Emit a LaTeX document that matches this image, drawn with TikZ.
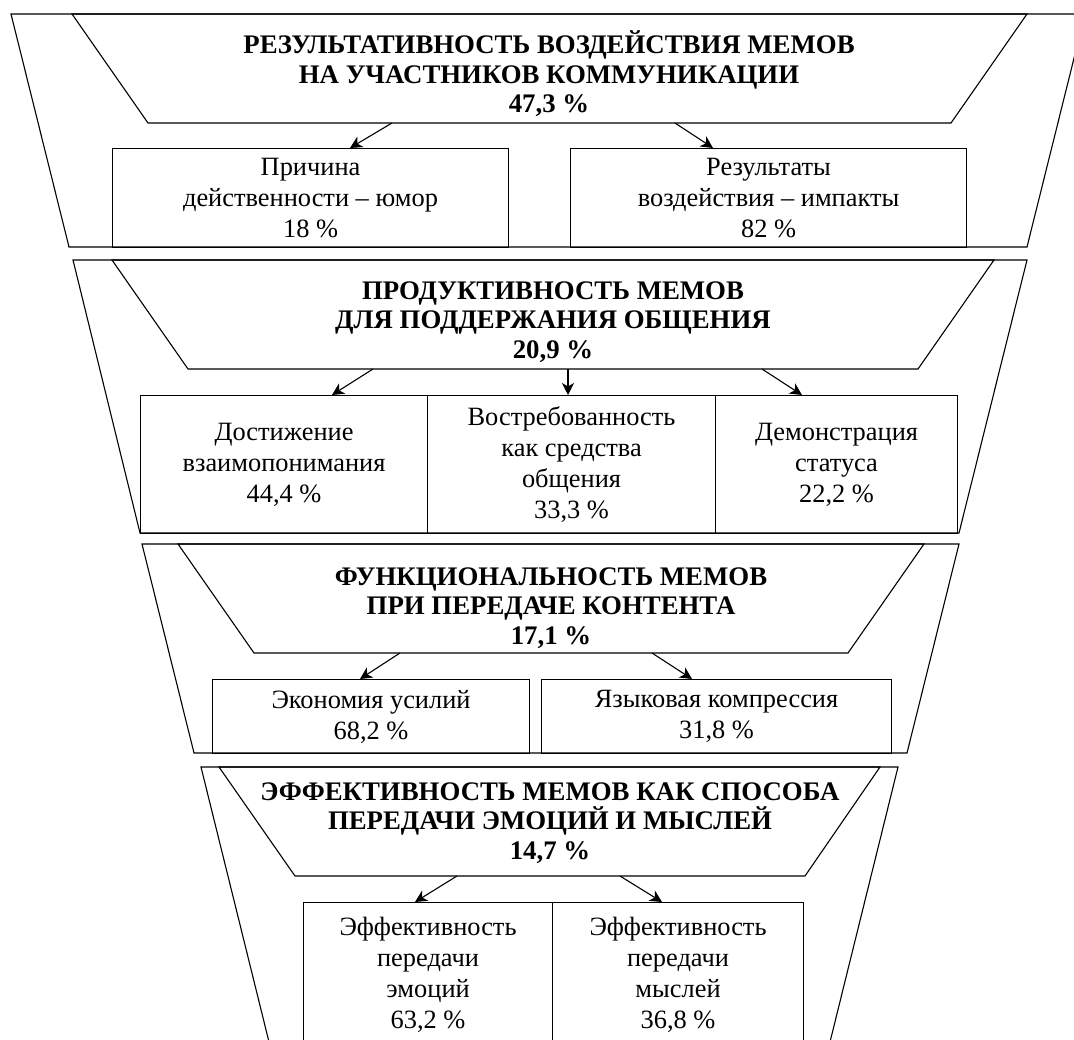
\documentclass[tikz,border=0pt]{standalone}
\usepackage{fontspec}
\setmainfont{Liberation Serif}
\usetikzlibrary{arrows.meta}

\tikzset{
	frame/.style={draw, line width=1.1pt, line join=miter},
	hdr/.style={align=center, inner sep=0pt, font=\fontsize{26.8}{29.5}\selectfont\bfseries},
	cell/.style={draw, line width=1.1pt, align=center, inner sep=0pt, anchor=north west, font=\fontsize{26.4}{31}\selectfont},
	arr/.style={-{Stealth[length=12pt,width=12pt,inset=3.5pt]}, line width=1.1pt}
}

\begin{document}
\begin{tikzpicture}[x=1pt, y=-1pt]
	\useasboundingbox (0,0) rectangle (1074,1040);
	\clip (0,0) rectangle (1074,1040);
% level 1
	\draw[frame] (11,14) -- (1085,14) -- (1027,247) -- (69,247) -- cycle;
	\draw[frame] (72,14) -- (1027,14) -- (951,123) -- (148,123) -- cycle;
		\node[hdr] (res) at (549,74) {РЕЗУЛЬТАТИВНОСТЬ ВОЗДЕЙСТВИЯ МЕМОВ\\НА УЧАСТНИКОВ КОММУНИКАЦИИ\\47,3 \%};
	\node[cell, minimum width=396pt, minimum height=99pt] (humor) at (112,148) {Причина\\действенности – юмор\\18 \%};
	\node[cell, minimum width=396pt, minimum height=99pt] (impact) at (570,148) {Результаты\\воздействия – импакты\\82 \%};
	\coordinate (res-l) at (392,123);
	\coordinate (res-r) at (675,123);
	\coordinate (humor-in) at (350,148);
	\coordinate (impact-in) at (713,148);
	\draw[arr] (res-l) -- (humor-in);
	\draw[arr] (res-r) -- (impact-in);
%
% level 2
	\draw[frame] (73,260) -- (1027,260) -- (959,533) -- (140,533) -- cycle;
	\draw[frame] (112,260) -- (994,260) -- (918,369) -- (188,369) -- cycle;
		\node[hdr] (prod) at (553,322) {ПРОДУКТИВНОСТЬ МЕМОВ\\ДЛЯ ПОДДЕРЖАНИЯ ОБЩЕНИЯ\\20,9 \%};
	\node[cell, minimum width=287pt, minimum height=138pt] (under) at (140,395) {Достижение\\взаимопонимания\\44,4 \%};
	\node[cell, minimum width=288pt, minimum height=138pt] (demand) at (427,395) {Востребованность\\как средства\\общения\\33,3 \%};
	\node[cell, minimum width=242pt, minimum height=138pt] (status) at (715,395) {Демонстрация\\статуса\\22,2 \%};
	\coordinate (prod-l) at (373,369);
	\coordinate (prod-m) at (568,369);
	\coordinate (prod-r) at (762,369);
	\coordinate (under-in) at (332,395);
	\coordinate (demand-in) at (568,395);
	\coordinate (status-in) at (802,395);
	\draw[arr] (prod-l) -- (under-in);
	\draw[arr] (prod-m) -- (demand-in);
	\draw[arr] (prod-r) -- (status-in);
%
% level 3
	\draw[frame] (142,544) -- (959,544) -- (907,753) -- (194,753) -- cycle;
	\draw[frame] (178,544) -- (924,544) -- (848,653) -- (254,653) -- cycle;
		\node[hdr] (func) at (551,608) {ФУНКЦИОНАЛЬНОСТЬ МЕМОВ\\ПРИ ПЕРЕДАЧЕ КОНТЕНТА\\17,1 \%};
	\node[cell, minimum width=317pt, minimum height=74pt] (effort) at (212,679) {Экономия усилий\\68,2 \%};
	\node[cell, minimum width=350pt, minimum height=74pt] (compr) at (541,679) {Языковая компрессия\\31,8 \%};
	\coordinate (func-l) at (400,653);
	\coordinate (func-r) at (652,653);
	\coordinate (effort-in) at (360,679);
	\coordinate (compr-in) at (692,679);
	\draw[arr] (func-l) -- (effort-in);
	\draw[arr] (func-r) -- (compr-in);
%
% level 4
	\draw[frame] (201,767) -- (898,767) -- (829,1046) -- (270,1046) -- cycle;
	\draw[frame] (219,767) -- (880,767) -- (805,876) -- (295,876) -- cycle;
		\node[hdr] (eff) at (550,823) {ЭФФЕКТИВНОСТЬ МЕМОВ КАК СПОСОБА\\ПЕРЕДАЧИ ЭМОЦИЙ И МЫСЛЕЙ\\14,7 \%};
	\node[cell, minimum width=249pt, minimum height=144pt] (emo) at (303,902) {Эффективность\\передачи\\эмоций\\63,2 \%};
	\node[cell, minimum width=251pt, minimum height=144pt] (thought) at (552,902) {Эффективность\\передачи\\мыслей\\36,8 \%};
	\coordinate (eff-l) at (457,876);
	\coordinate (eff-r) at (620,876);
	\coordinate (emo-in) at (415,902);
	\coordinate (thought-in) at (662,902);
	\draw[arr] (eff-l) -- (emo-in);
	\draw[arr] (eff-r) -- (thought-in);
\end{tikzpicture}
\end{document}
